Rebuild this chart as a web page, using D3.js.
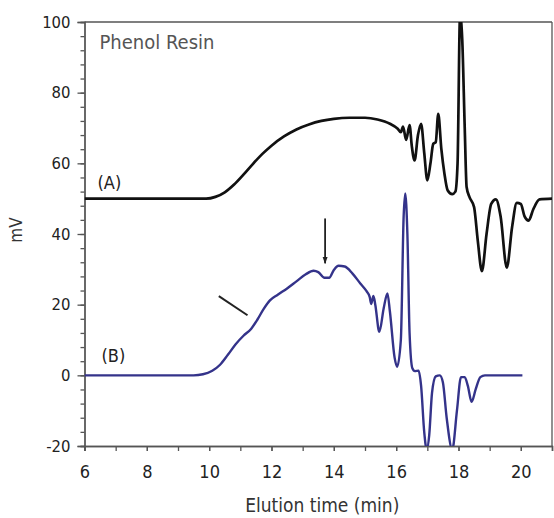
<!DOCTYPE html>
<html>
<head>
<meta charset="utf-8">
<script src="https://cdn.jsdelivr.net/npm/d3@7/dist/d3.min.js"></script>
<style>
  html, body { margin: 0; padding: 0; background: #ffffff; }
  svg { display: block; }
  text { font-family: "Liberation Sans Narrow", "DejaVu Sans Condensed", "Arial Narrow", sans-serif; }
</style>
</head>
<body>
<svg id="chart" width="554" height="518"></svg>
<script>
// ---- Data ----
const seriesNames = ["(A)", "(B)"];

const timeA = [6, 9.9, 10.2, 10.5, 10.8, 11.1, 11.4, 11.7, 12.0, 12.4, 12.8, 13.2, 13.6, 14.0, 14.5, 15.0, 15.4, 15.8, 16.05, 16.15, 16.22, 16.32, 16.43, 16.5, 16.59, 16.7, 16.8, 16.9, 17.0, 17.1, 17.19, 17.27, 17.35, 17.45, 17.55, 17.65, 17.8, 17.9, 17.97, 18.05, 18.12, 18.2, 18.26, 18.35, 18.5, 18.62, 18.75, 18.9, 19.05, 19.2, 19.35, 19.55, 19.72, 19.87, 20.0, 20.12, 20.25, 20.4, 20.6, 21];
const valueA = [50, 50, 50.5, 51.8, 54, 56.8, 59.8, 62.6, 65, 67.6, 69.6, 71, 72, 72.6, 72.9, 72.9, 72.4, 71.2, 69.8, 68.8, 70.4, 66.6, 70.8, 65, 60.8, 68, 71.2, 63, 55.2, 60, 65.5, 66, 74, 64, 57, 52.4, 51.3, 52, 60, 102, 95, 70, 53.3, 50.5, 47.6, 38, 29.5, 40, 48.5, 49.8, 45, 30.5, 42, 48.8, 48.5, 45, 43.8, 47, 49.8, 50];

const timeB = [6, 9.5, 9.8, 10.1, 10.35, 10.6, 10.85, 11.1, 11.35, 11.55, 11.75, 11.95, 12.2, 12.5, 12.8, 13.1, 13.35, 13.5, 13.7, 13.85, 14.0, 14.15, 14.35, 14.6, 14.85, 15.05, 15.15, 15.2, 15.27, 15.33, 15.46, 15.6, 15.72, 15.8, 15.95, 16.03, 16.15, 16.24, 16.29, 16.36, 16.43, 16.52, 16.6, 16.72, 16.8, 16.9, 16.98, 17.06, 17.15, 17.27, 17.4, 17.5, 17.62, 17.8, 17.95, 18.08, 18.2, 18.3, 18.42, 18.55, 18.7, 18.85, 20.05];
const valueB = [0, 0, 0.3, 1.3, 3, 5.8, 8.8, 11.2, 13.2, 15.8, 18.8, 21.2, 22.8, 24.6, 26.6, 28.6, 29.6, 29.2, 27.6, 27.6, 29.8, 31, 30.8, 28.8, 26, 23.8, 22.2, 20.2, 22.5, 20, 12.3, 19, 23.2, 18, 5, 2.4, 10, 45, 51.5, 40, 12, 2, 1.2, 1.3, -3, -16, -21, -17, -5, -0.3, 0, -2, -12, -21, -10, -0.5, -0.5, -3, -7.5, -4, -0.5, 0, 0];

const xTicks = [6, 8, 10, 12, 14, 16, 18, 20];
const xMinorTicks = [6, 7, 8, 9, 10, 11, 12, 13, 14, 15, 16, 17, 18, 19, 20, 21];
const yTicks = [-20, 0, 20, 40, 60, 80, 100];
const yMinorTicks = [-20, -16, -12, -8, -4, 0, 4, 8, 12, 16, 20, 24, 28, 32, 36, 40, 44, 48, 52, 56, 60, 64, 68, 72, 76, 80, 84, 88, 92, 96, 100];

// annotation arrows, in data units [t0, v0, t1, v1]
const arrowDiag = [10.31, 22.4, 11.23, 17.0];
const arrowDown = [13.72, 44.4, 13.72, 31.7];

const chartTitle = "Phenol Resin";
const xTitle = "Elution time (min)";
const yTitle = "mV";

// ---- Layout ----
const W = 554, H = 518;
const m = { left: 84.5, right: 552, top: 22, bottom: 446 };

const svg = d3.select("#chart");
const x = d3.scaleLinear().domain([6, 21]).range([m.left, m.right]);
const y = d3.scaleLinear().domain([-20, 100]).range([m.bottom, m.top]);

const defs = svg.append("defs");
defs.append("clipPath").attr("id", "plotclip")
  .append("rect").attr("x", m.left).attr("y", m.top)
  .attr("width", m.right - m.left).attr("height", m.bottom - m.top);

const axisColor = "#555";
const fmt = d => String(d);

// frame top and right
svg.append("line").attr("x1", m.left).attr("x2", m.right).attr("y1", m.top).attr("y2", m.top)
  .attr("stroke", axisColor).attr("stroke-width", 1.3);
svg.append("line").attr("x1", m.right).attr("x2", m.right).attr("y1", m.top).attr("y2", m.bottom)
  .attr("stroke", axisColor).attr("stroke-width", 1.3);

// x axis
const gxMinor = svg.append("g").attr("transform", `translate(0,${m.bottom})`)
  .call(d3.axisBottom(x).tickValues(xMinorTicks).tickSize(5).tickFormat(""));
const gx = svg.append("g").attr("transform", `translate(0,${m.bottom})`)
  .call(d3.axisBottom(x).tickValues(xTicks).tickSize(5).tickPadding(14).tickFormat(fmt));
[gxMinor, gx].forEach(g => {
  g.select(".domain").attr("stroke", axisColor).attr("stroke-width", 1.3);
  g.selectAll(".tick line").attr("stroke", axisColor).attr("stroke-width", 1.3);
});
gx.selectAll(".tick text").attr("fill", "#222").style("font-size", "18px");

// y axis
const gyMinor = svg.append("g").attr("transform", `translate(${m.left},0)`)
  .call(d3.axisLeft(y).tickValues(yMinorTicks).tickSize(4).tickFormat(""));
const gy = svg.append("g").attr("transform", `translate(${m.left},0)`)
  .call(d3.axisLeft(y).tickValues(yTicks).tickSize(7).tickPadding(7).tickFormat(fmt));
[gyMinor, gy].forEach(g => {
  g.select(".domain").attr("stroke", axisColor).attr("stroke-width", 1.3);
  g.selectAll(".tick line").attr("stroke", axisColor).attr("stroke-width", 1.3);
});
gy.selectAll(".tick text").attr("fill", "#222").style("font-size", "16.5px");

// lines
const lineGen = d3.line().x(d => x(d[0])).y(d => y(d[1])).curve(d3.curveMonotoneX);
const dataA = d3.zip(timeA, valueA);
const dataB = d3.zip(timeB, valueB);
const plot = svg.append("g").attr("clip-path", "url(#plotclip)");
plot.append("path").datum(dataB).attr("d", lineGen)
  .attr("fill", "none").attr("stroke", "#34338a").attr("stroke-width", 2.4).attr("stroke-linejoin", "round");
plot.append("path").datum(dataA).attr("d", lineGen)
  .attr("fill", "none").attr("stroke", "#111").attr("stroke-width", 2.7).attr("stroke-linejoin", "round");

// arrows
defs.append("marker").attr("id", "ah")
  .attr("viewBox", "0 0 10 10").attr("refX", 9).attr("refY", 5)
  .attr("markerWidth", 4).attr("markerHeight", 4).attr("orient", "auto")
  .append("path").attr("d", "M0,1.5 L10,5 L0,8.5 Z").attr("fill", "#222");
svg.append("line")
  .attr("x1", x(arrowDiag[0])).attr("y1", y(arrowDiag[1])).attr("x2", x(arrowDiag[2])).attr("y2", y(arrowDiag[3]))
  .attr("stroke", "#222").attr("stroke-width", 2);
svg.append("line")
  .attr("x1", x(arrowDown[0])).attr("y1", y(arrowDown[1])).attr("x2", x(arrowDown[2])).attr("y2", y(arrowDown[3]))
  .attr("stroke", "#222").attr("stroke-width", 1.8).attr("marker-end", "url(#ah)");

// texts
svg.append("text").attr("x", x(6) + 15).attr("y", 49).text(chartTitle)
  .attr("fill", "#555").style("font-size", "20px");
svg.append("text").attr("x", x(6) + 13).attr("y", y(52.6)).text(seriesNames[0])
  .attr("fill", "#222").style("font-size", "18px");
svg.append("text").attr("x", x(6) + 17).attr("y", y(3.8)).text(seriesNames[1])
  .attr("fill", "#222").style("font-size", "18px");

svg.append("text").attr("x", (m.left + m.right) / 2 + 4).attr("y", 512).attr("text-anchor", "middle")
  .text(xTitle).attr("fill", "#333").style("font-size", "19px");
svg.append("text").attr("transform", `translate(22,${(m.top + m.bottom) / 2 - 4}) rotate(-90)`)
  .attr("text-anchor", "middle").text(yTitle).attr("fill", "#333").style("font-size", "17px");
</script>
</body>
</html>
